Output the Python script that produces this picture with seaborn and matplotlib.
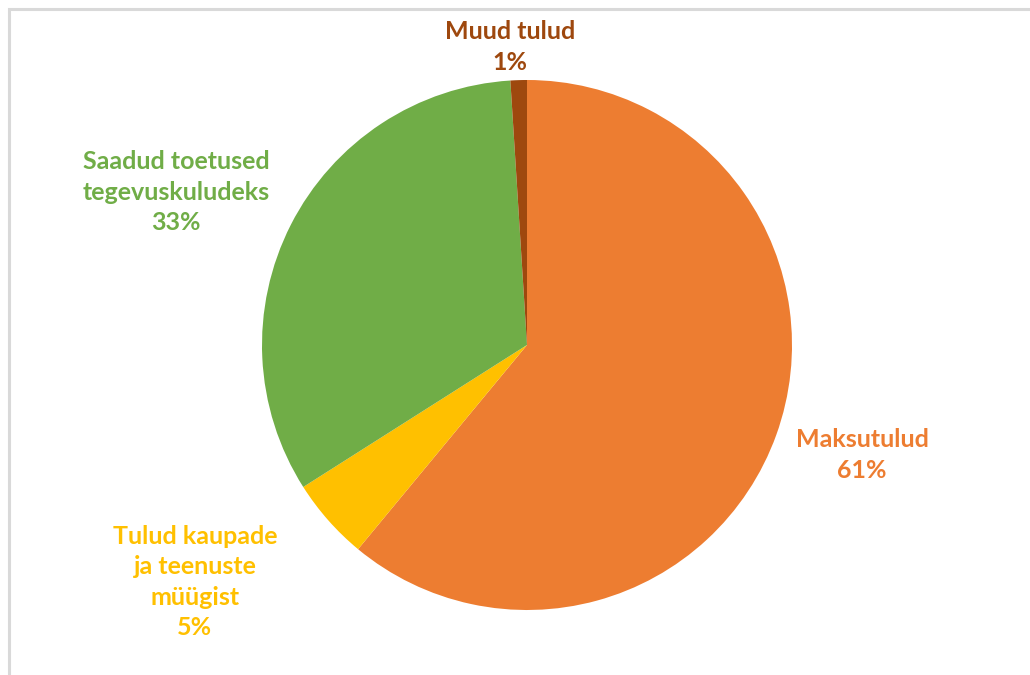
import numpy as np
import matplotlib
matplotlib.use('Agg')
import matplotlib.pyplot as plt
import seaborn as sns

# revenue shares (%), clockwise from 12 o'clock
categories = ['Maksutulud', 'Tulud kaupade\nja teenuste\nmüügist',
              'Saadud toetused\ntegevuskuludeks', 'Muud tulud']
shares = [61, 5, 33, 1]
colors = ['#ED7D31', '#FFC000', '#70AD47', '#9E480E']

# where each label sits, in pie radius units
label_pos = [(1.264, -0.415), (-1.253, -0.894), (-1.325, 0.577), (-0.064, 1.125)]

sns.set_theme(style='white')
plt.rcParams['font.family'] = ['Lato', 'DejaVu Sans']

fig = plt.figure(figsize=(10.3, 6.75), dpi=100)
ax = fig.add_axes([0, 0, 1, 1])

wedges, _ = ax.pie(shares, colors=colors, startangle=90, counterclock=False,
                   radius=1.0, wedgeprops=dict(linewidth=0))

for name, val, col, (x, y) in zip(categories, shares, colors, label_pos):
    ax.text(x, y, f'{name}\n{val}%', color=col, fontsize=18, fontweight='bold',
            ha='center', va='center', linespacing=1.4)

ax.set_xlim(-527 / 265, (1030 - 527) / 265)
ax.set_ylim(-(675 - 345) / 265, 345 / 265)
ax.set_aspect('equal')
ax.axis('off')

# light grey frame like the original chart area
fig.patches.append(plt.Rectangle((9 / 1030, -0.1), 1.2, (675 - 9) / 675 + 0.1,
                                 transform=fig.transFigure, fill=False,
                                 edgecolor='#D9D9D9', linewidth=2.2))

fig.savefig('out.png', dpi=100)
